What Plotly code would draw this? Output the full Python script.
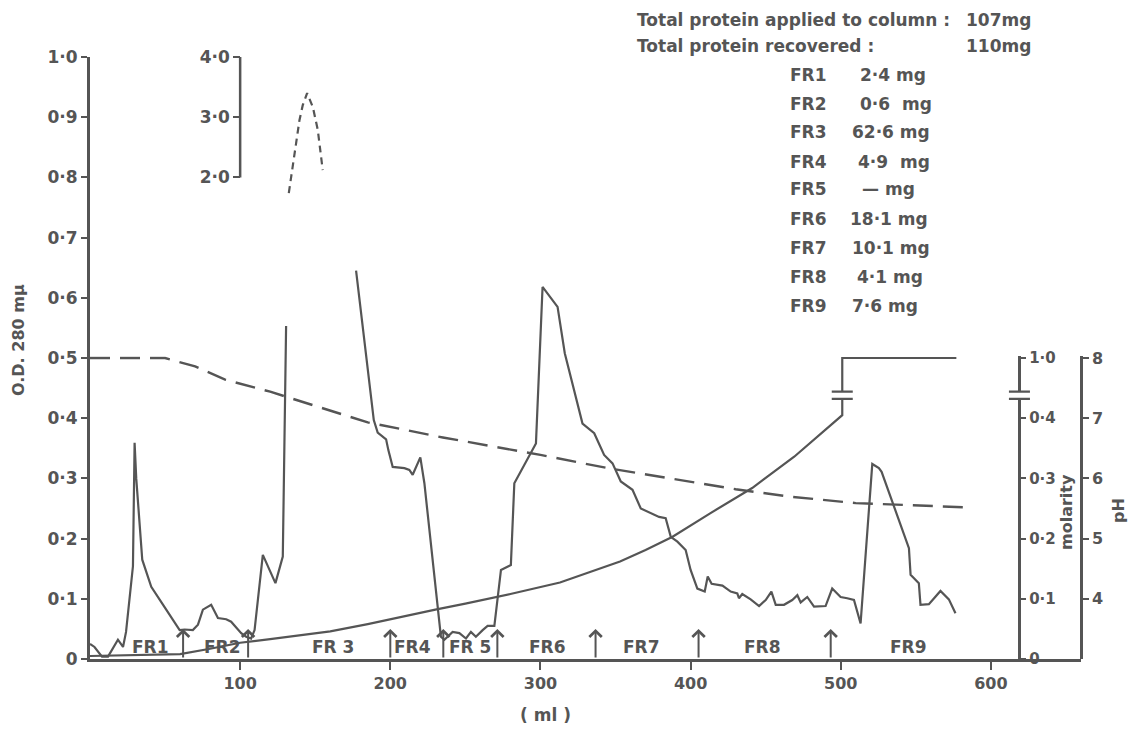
import plotly.graph_objects as go

# ---------------- data ----------------
# O.D. 280 mu elution profile (ml, OD); None marks the off-scale gap (FR3 peak)
OD_ML = [0, 3, 8, 12, 18.6, 22, 24, 28.6, 29.7, 30.8, 34.8, 40.8, 50, 59.7, 63, 68.5, 71.9,
         75.2, 80.7, 85.2, 90.7, 94, 100.7, 104, 107.3, 109.6, 115.1, 123.5, 128.4, 130.6,
         None,
         177.2, 189, 191.6, 197.2, 198.7, 201.6, 209.4, 212.7, 214.9, 217.1, 220, 222.7, 233.7,
         236, 241.5, 246, 250.4, 253.7, 257, 261.5, 264.8, 269.3, 273.7, 280.3, 282.6, 297,
         301.4, 311.4, 316.2, 328, 335.8, 342.4, 348, 353.5, 361.3, 366.8, 379, 383.4, 386.8,
         391.2, 396.7, 400, 404.5, 409.4, 411.4, 414, 421.2, 426.7, 431.1, 432.2, 434.4, 440,
         445.6, 450, 453.8, 456.7, 462.2, 467.7, 471.1, 473.3, 477.7, 482.2, 489.9, 494.3,
         499.9, 504.3, 508.8, 513.2, 521, 525.4, 527.2, 545.4, 546.5, 552, 553.1, 558.7, 566.4,
         572, 576.4]
OD_VAL = [0.025, 0.02, 0.004, 0.004, 0.032, 0.02, 0.045, 0.154, 0.359, 0.30, 0.165, 0.12, 0.085,
          0.048, 0.049, 0.048, 0.057, 0.082, 0.09, 0.068, 0.066, 0.062, 0.043, 0.037, 0.034,
          0.048, 0.173, 0.126, 0.17, 0.553,
          None,
          0.645, 0.397, 0.376, 0.365, 0.347, 0.319, 0.317, 0.314, 0.306, 0.319, 0.335, 0.292,
          0.037, 0.032, 0.045, 0.043, 0.034, 0.045, 0.037, 0.048, 0.055, 0.055, 0.148, 0.156,
          0.292, 0.358, 0.618, 0.585, 0.508, 0.391, 0.375, 0.339, 0.325, 0.295, 0.281, 0.25,
          0.236, 0.234, 0.203, 0.195, 0.181, 0.148, 0.117, 0.112, 0.137, 0.125, 0.122, 0.112,
          0.109, 0.101, 0.108, 0.099, 0.088, 0.098, 0.112, 0.09, 0.09, 0.098, 0.106, 0.094,
          0.103, 0.087, 0.088, 0.117, 0.103, 0.101, 0.098, 0.059, 0.324, 0.317, 0.311, 0.184,
          0.14, 0.126, 0.09, 0.091, 0.113, 0.099, 0.076]

# FR3 peak top, on the inset 2.0-4.0 O.D. scale
PEAK_ML = [132.4, 136.2, 139.5, 141.7, 144.6, 148.4, 151.7, 155]
PEAK_OD = [1.74, 2.40, 2.95, 3.20, 3.40, 3.17, 2.79, 2.12]

# pH gradient
PH_ML = [0, 50, 70, 90, 120, 150, 185, 235, 265, 300, 345, 385, 430, 465, 510, 583]
PH_VAL = [8.0, 8.0, 7.86, 7.64, 7.44, 7.2, 6.93, 6.68, 6.55, 6.39, 6.17, 6.0, 5.82, 5.70, 5.59, 5.52]

# molarity gradient (axis broken between 0.45 and 1.0)
MOL_ML = [0, 30, 60, 80, 100, 120, 140, 160, 185, 210, 230, 250, 280, 313, 333, 353, 370, 388,
          413, 441, 469, 491, 501, 501, 577]
MOL_VAL = [0.005, 0.006, 0.008, 0.017, 0.027, 0.033, 0.04, 0.046, 0.058, 0.072, 0.082, 0.092,
           0.108, 0.127, 0.144, 0.162, 0.181, 0.203, 0.242, 0.284, 0.336, 0.383, 0.405, 1.0, 1.0]

# fractions
FR_NAMES = ["FR1", "FR2", "FR 3", "FR4", "FR 5", "FR6", "FR7", "FR8", "FR9"]
FR_LABEL_ML = [40, 88, 162, 214.7, 253, 305, 367, 448, 545]
FR_CUTS_ML = [62, 105.3, 200, 235.3, 271.3, 336.7, 405.3, 493.3]

# table text
TABLE_FR = ["FR1", "FR2", "FR3", "FR4", "FR5", "FR6", "FR7", "FR8", "FR9"]
TABLE_MG = ["2·4 mg", "0·6  mg", "62·6 mg", "4·9  mg", "— mg", "18·1 mg", "10·1 mg", "4·1 mg", "7·6 mg"]

X_TICKS = [100, 200, 300, 400, 500, 600]
OD_TICKS = [0, 0.1, 0.2, 0.3, 0.4, 0.5, 0.6, 0.7, 0.8, 0.9, 1.0]
OD_TICKTEXT = ["0", "0·1", "0·2", "0·3", "0·4", "0·5", "0·6", "0·7", "0·8", "0·9", "1·0"]
INSET_TICKS = [2, 3, 4]
INSET_TICKTEXT = ["2·0", "3·0", "4·0"]
MOL_TICK_VALUES = [0, 0.1, 0.2, 0.3, 0.4, 1.0]
MOL_TICKTEXT = ["0", "0·1", "0·2", "0·3", "0·4", "1·0"]
PH_TICKS = [4, 5, 6, 7, 8]

# ---------------- styling ----------------
C = "#555555"
FONT = "DejaVu Sans"
XMAX = 660
BREAK_AT = 0.45      # molarity values above this are drawn at the broken top
BREAK_TOP = 0.5


def mol_pos(m):
    return m if m <= BREAK_AT else BREAK_TOP


# page body has an 8px default margin: size the figure so the plot lands where wanted
OFF = 8
WIN_W, WIN_H = 1136, 731
PLOT_L, PLOT_R, PLOT_T, PLOT_B = 90, 1081, 57, 659   # window pixels of the plot area
W, H = WIN_W - OFF, WIN_H - OFF
ML, MT = PLOT_L - OFF, PLOT_T - OFF
MR = W - (PLOT_R - OFF)
MB = H - (PLOT_B - OFF)
PW, PHH = PLOT_R - PLOT_L, PLOT_B - PLOT_T


def px(xp):
    return (xp - PLOT_L) / PW


def py(yp):
    return (PLOT_B - yp) / PHH


def bold(size):
    return dict(family=FONT, size=size, color=C, weight="bold")


fig = go.Figure()

fig.add_trace(go.Scatter(x=MOL_ML, y=[mol_pos(m) for m in MOL_VAL], mode="lines",
                         line=dict(color=C, width=2.2), xaxis="x", yaxis="y4"))
fig.add_trace(go.Scatter(x=PH_ML, y=PH_VAL, mode="lines",
                         line=dict(color=C, width=2.4, dash="20px,10px"), xaxis="x", yaxis="y5"))
fig.add_trace(go.Scatter(x=OD_ML, y=OD_VAL, mode="lines", connectgaps=False,
                         line=dict(color=C, width=2.2), xaxis="x", yaxis="y"))
fig.add_trace(go.Scatter(x=PEAK_ML, y=PEAK_OD, mode="lines",
                         line=dict(color=C, width=2.2, dash="7px,5px"), xaxis="x", yaxis="y3"))

INSET_POS = 100 / XMAX
MOL_POS = 619 / XMAX

fig.update_layout(
    width=W, height=H, autosize=False,
    margin=dict(l=ML, r=MR, t=MT, b=MB, pad=0),
    paper_bgcolor="white", plot_bgcolor="rgba(0,0,0,0)",
    showlegend=False,
    xaxis=dict(range=[0, XMAX], showline=True, linewidth=3, linecolor=C, ticks="outside",
               ticklen=8, tickwidth=2, tickcolor=C, tickvals=X_TICKS, showgrid=False,
               zeroline=False, tickfont=bold(16)),
    yaxis=dict(range=[0, 1.0], domain=[0, 1], showline=True, linewidth=3, linecolor=C,
               ticks="outside", ticklen=6, tickwidth=2, tickcolor=C, tickvals=OD_TICKS,
               ticktext=OD_TICKTEXT, showgrid=False, zeroline=False, tickfont=bold(17)),
    yaxis3=dict(domain=[0.77, 1.0], range=[1.7, 4.0], anchor="free", position=INSET_POS,
                side="left", showline=False, ticks="outside", ticklen=7, tickwidth=2,
                tickcolor=C, tickvals=INSET_TICKS, ticktext=INSET_TICKTEXT, showgrid=False,
                zeroline=False, tickfont=bold(17)),
    yaxis4=dict(domain=[0, 0.503], range=[0, 0.503], anchor="free", position=MOL_POS,
                side="right", showline=True, linewidth=2.5, linecolor=C, ticks="outside",
                ticklen=5, tickwidth=2, tickcolor=C,
                tickvals=[mol_pos(m) for m in MOL_TICK_VALUES], ticktext=MOL_TICKTEXT,
                showgrid=False, zeroline=False, tickfont=bold(15)),
    yaxis5=dict(domain=[0, 0.503], range=[3, 3 + 0.503 * 10], anchor="free", position=1.0,
                side="right", showline=True, linewidth=2.5, linecolor=C, ticks="outside",
                ticklen=6, tickwidth=2, tickcolor=C, tickvals=PH_TICKS, showgrid=False,
                zeroline=False, tickfont=bold(16)),
)

shapes = []
# inset axis line (2.0 - 4.0)
shapes.append(dict(type="line", xref="paper", yref="y3", x0=INSET_POS, x1=INSET_POS,
                   y0=2, y1=4, line=dict(color=C, width=2.5)))
# axis breaks "=" on the molarity step and on the molarity axis
for bx in (501, 619):
    shapes.append(dict(type="rect", xref="x", yref="y4", x0=bx - 4, x1=bx + 4,
                       y0=0.432, y1=0.444, fillcolor="white", line=dict(width=0),
                       layer="above"))
    for by in (0.432, 0.444):
        shapes.append(dict(type="line", xref="x", yref="y4", x0=bx - 7, x1=bx + 7,
                           y0=by, y1=by, line=dict(color=C, width=2.2), layer="above"))
fig.update_layout(shapes=shapes)

ann = []
for name, xm in zip(FR_NAMES, FR_LABEL_ML):
    ann.append(dict(x=xm, y=0.02, xref="x", yref="y", text=name, showarrow=False,
                    font=bold(17), xanchor="center", yanchor="middle"))
for xm in FR_CUTS_ML:
    ann.append(dict(x=xm, y=0.05, ax=xm, ay=0, xref="x", yref="y", axref="x", ayref="y",
                    text="", showarrow=True, arrowhead=4, arrowsize=1.2, arrowwidth=2,
                    arrowcolor=C, standoff=0, startstandoff=0))

ann.append(dict(x=px(635), y=py(20), xref="paper", yref="paper", showarrow=False,
                text="Total protein applied to column :", font=bold(17),
                xanchor="left", yanchor="middle"))
ann.append(dict(x=px(1033), y=py(20), xref="paper", yref="paper", showarrow=False,
                text="107mg", font=bold(17), xanchor="right", yanchor="middle"))
ann.append(dict(x=px(635), y=py(46), xref="paper", yref="paper", showarrow=False,
                text="Total protein recovered :", font=bold(17),
                xanchor="left", yanchor="middle"))
ann.append(dict(x=px(1033), y=py(46), xref="paper", yref="paper", showarrow=False,
                text="110mg", font=bold(17), xanchor="right", yanchor="middle"))
row_y = [75, 104, 132, 162, 189, 219, 248, 277, 306]
val_x = [858, 858, 850, 856, 860, 848, 850, 855, 850]
for fr, mg, yp, xv in zip(TABLE_FR, TABLE_MG, row_y, val_x):
    ann.append(dict(x=px(788), y=py(yp), xref="paper", yref="paper", showarrow=False,
                    text=fr, font=bold(17), xanchor="left", yanchor="middle"))
    ann.append(dict(x=px(xv), y=py(yp), xref="paper", yref="paper", showarrow=False,
                    text=mg, font=bold(17), xanchor="left", yanchor="middle"))

ann.append(dict(x=px(18), y=py(340), xref="paper", yref="paper", showarrow=False,
                text="O.D. 280 mμ", textangle=-90, font=bold(16),
                xanchor="center", yanchor="middle"))
ann.append(dict(x=px(1066), y=py(512), xref="paper", yref="paper", showarrow=False,
                text="molarity", textangle=-90, font=bold(16),
                xanchor="center", yanchor="middle"))
ann.append(dict(x=px(1119), y=py(511), xref="paper", yref="paper", showarrow=False,
                text="pH", textangle=-90, font=bold(16),
                xanchor="center", yanchor="middle"))
ann.append(dict(x=px(545), y=py(715), xref="paper", yref="paper", showarrow=False,
                text="( ml )", font=bold(17), xanchor="center", yanchor="middle"))
fig.update_layout(annotations=ann)

fig.write_html("out.html")
